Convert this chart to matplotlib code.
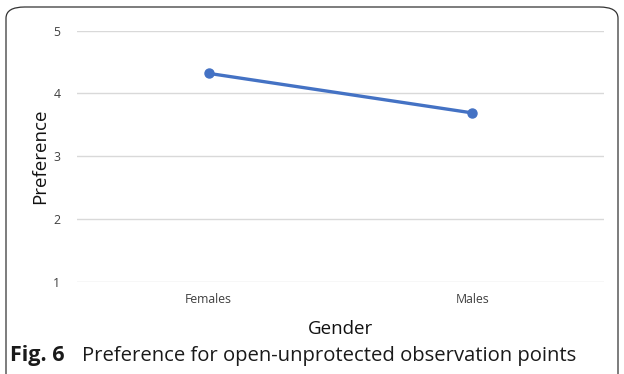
import matplotlib.pyplot as plt
from matplotlib.patches import FancyBboxPatch

categories = ["Females", "Males"]
preference = [4.32, 3.69]
y_ticks = [1, 2, 3, 4, 5]

W, H = 624, 374
fig = plt.figure(figsize=(W / 100, H / 100), dpi=100)

# rounded outer frame
frame = FancyBboxPatch((6 / W, -20 / H), (W - 12) / W, (H - 7 + 20) / H,
                       boxstyle="round,pad=0,rounding_size=0.03",
                       transform=fig.transFigure, fill=False,
                       edgecolor="#333333", linewidth=0.9, clip_on=False)
fig.patches.append(frame)

ax = fig.add_axes([77 / W, 1 - 281.7 / H, (604 - 77) / W, (281.7 - 30.7) / H])
x = range(len(categories))
ax.plot(list(x), preference, color="#4472C4", linewidth=2.4,
        marker="o", markersize=6.5, solid_capstyle="round", zorder=3)

ax.set_xlim(-0.5, len(categories) - 0.5)
ax.set_ylim(1, 5)
ax.set_yticks(y_ticks)
ax.set_yticklabels([str(v) for v in y_ticks])
ax.set_xticks(list(x))
ax.set_xticklabels(categories)
ax.yaxis.grid(True, color="#d9d9d9", linewidth=1.0)
ax.set_axisbelow(True)
for s in ax.spines.values():
    s.set_visible(False)
ax.tick_params(axis="both", length=0, labelsize=8.8, colors="#404040")
ax.tick_params(axis="y", pad=12)
ax.tick_params(axis="x", pad=8)
for lbl in ax.get_xticklabels() + ax.get_yticklabels():
    lbl.set_family("Open Sans")

ax.set_xlabel("Gender", fontsize=13.5, family="Open Sans", color="#111111", labelpad=10)
ax.set_ylabel("Preference", fontsize=13.5, family="Open Sans", color="#111111", labelpad=3)

fig.text(10 / W, 1 - 356 / H, "Fig. 6", fontsize=15.5, fontweight="bold",
         family="Open Sans", color="#1a1a1a", va="center", ha="left")
fig.text(82 / W, 1 - 356 / H, "Preference for open-unprotected observation points",
         fontsize=14.6, family="Open Sans", color="#1a1a1a", va="center", ha="left")

fig.savefig("out.png", dpi=100)
